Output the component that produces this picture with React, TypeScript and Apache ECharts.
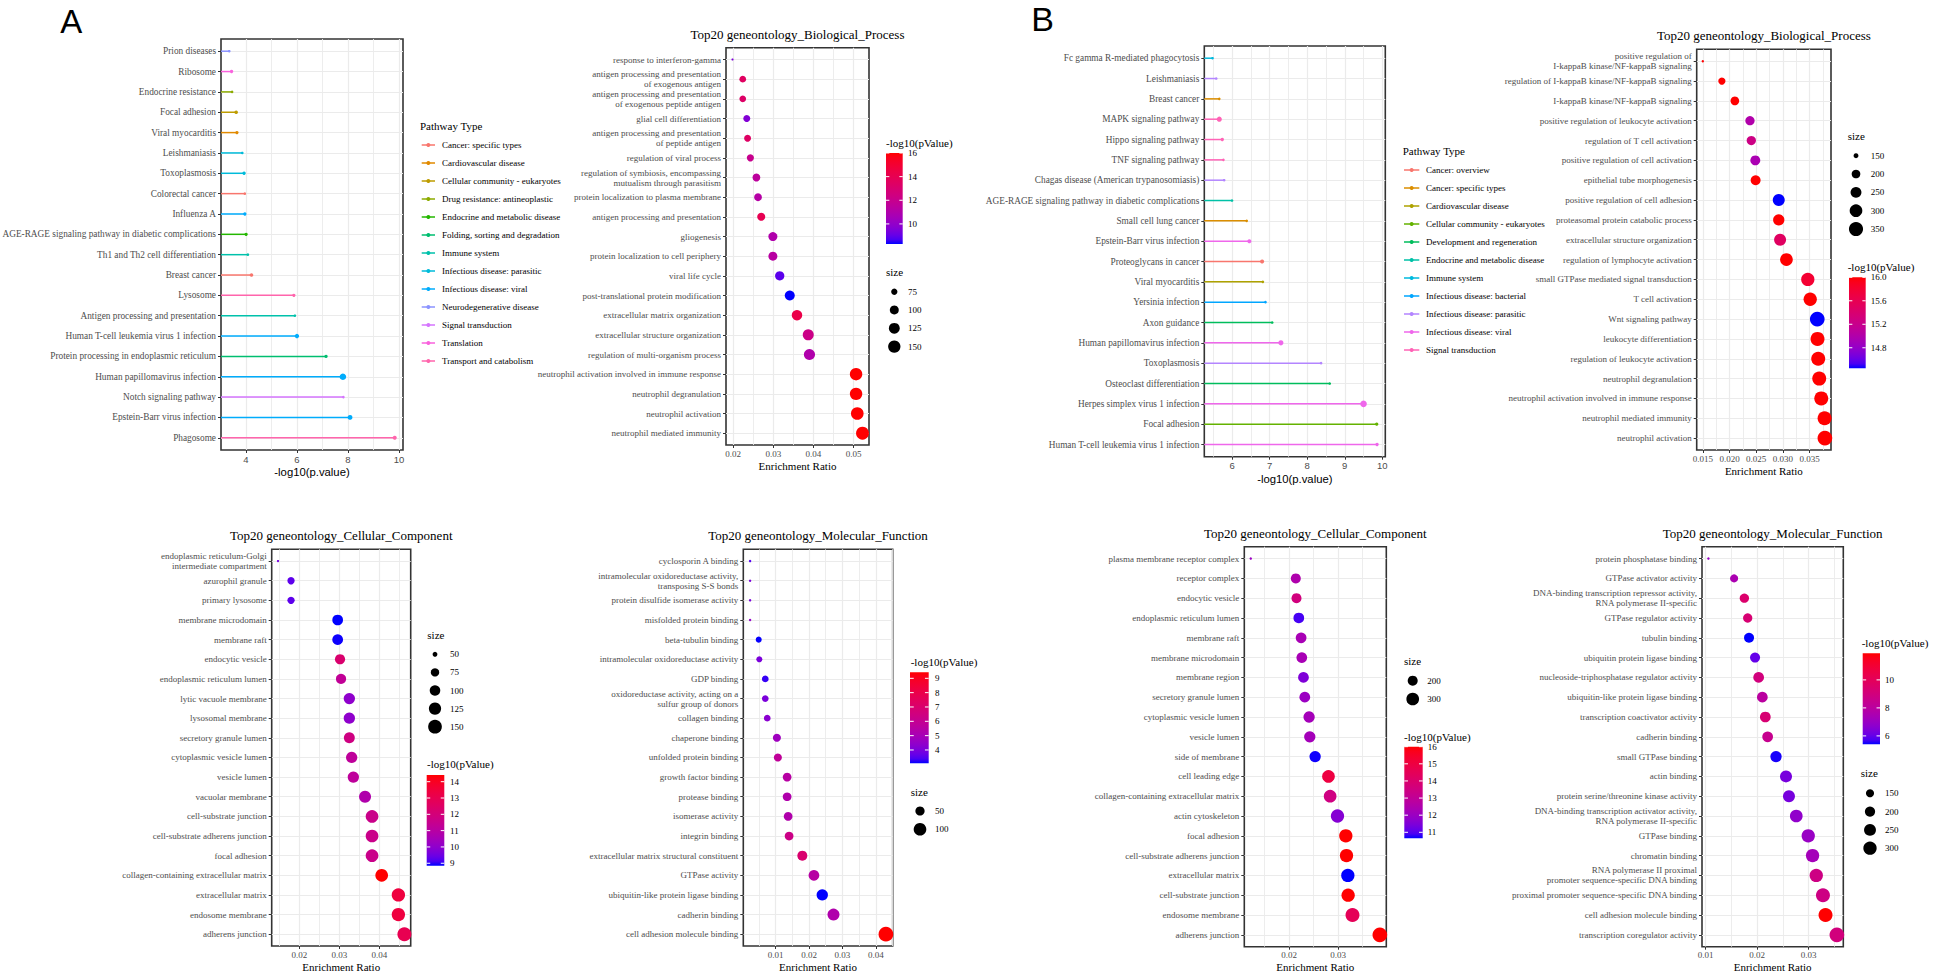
import React, { useEffect, useRef } from "react";
import * as echarts from "echarts";

/* ================= DATA ================= */
/* ---- Panel A : KEGG lollipop ---- */
const aKeggCategories = [
  "Cancer: specific types",
  "Cardiovascular disease",
  "Cellular community - eukaryotes",
  "Drug resistance: antineoplastic",
  "Endocrine and metabolic disease",
  "Folding, sorting and degradation",
  "Immune system",
  "Infectious disease: parasitic",
  "Infectious disease: viral",
  "Neurodegenerative disease",
  "Signal transduction",
  "Translation",
  "Transport and catabolism",
];
const aKeggTerms = [
  "Prion diseases",
  "Ribosome",
  "Endocrine resistance",
  "Focal adhesion",
  "Viral myocarditis",
  "Leishmaniasis",
  "Toxoplasmosis",
  "Colorectal cancer",
  "Influenza A",
  "AGE-RAGE signaling pathway in diabetic complications",
  "Th1 and Th2 cell differentiation",
  "Breast cancer",
  "Lysosome",
  "Antigen processing and presentation",
  "Human T-cell leukemia virus 1 infection",
  "Protein processing in endoplasmic reticulum",
  "Human papillomavirus infection",
  "Notch signaling pathway",
  "Epstein-Barr virus infection",
  "Phagosome",
];
const aKeggLogP = [3.35, 3.44, 3.46, 3.62, 3.65, 3.86, 3.93, 3.96, 3.96, 4.01, 4.08, 4.22, 5.88, 5.92, 6.0, 7.14, 7.8, 7.82, 8.08, 9.83];
const aKeggType = [9, 11, 3, 2, 1, 7, 7, 0, 8, 4, 6, 0, 12, 6, 8, 5, 8, 10, 8, 12];
const aKeggCount = [10, 11, 10, 12, 11, 10, 11, 10, 11, 11, 10, 12, 11, 10, 16, 11, 40, 10, 19, 14];
const aKeggTicks = [4, 6, 8, 10];
const aKeggMinorTicks = [3, 5, 7, 9, 11];

/* ---- Panel A : GO Biological Process ---- */
const aBpTerms = [
  "response to interferon-gamma",
  "antigen processing and presentation\nof exogenous antigen",
  "antigen processing and presentation\nof exogenous peptide antigen",
  "glial cell differentiation",
  "antigen processing and presentation\nof peptide antigen",
  "regulation of viral process",
  "regulation of symbiosis, encompassing\nmutualism through parasitism",
  "protein localization to plasma membrane",
  "antigen processing and presentation",
  "gliogenesis",
  "protein localization to cell periphery",
  "viral life cycle",
  "post-translational protein modification",
  "extracellular matrix organization",
  "extracellular structure organization",
  "regulation of multi-organism process",
  "neutrophil activation involved in immune response",
  "neutrophil degranulation",
  "neutrophil activation",
  "neutrophil mediated immunity",
];
const aBpRatio = [0.01985, 0.0224, 0.0224, 0.0234, 0.0236, 0.0243, 0.0258, 0.0262, 0.027, 0.0299, 0.0299, 0.0316, 0.0341, 0.0359, 0.0387, 0.039, 0.0506, 0.0506, 0.0509, 0.0522];
const aBpLogP = [9.5, 13.5, 13.3, 9.6, 13.4, 12.0, 11.5, 11.2, 14.0, 11.0, 11.3, 8.9, 8.3, 14.3, 12.2, 11.0, 16.0, 16.0, 16.0, 16.0];
const aBpCount = [60, 78, 78, 80, 80, 82, 88, 88, 90, 100, 100, 104, 113, 120, 128, 130, 152, 152, 155, 160];
const aBpTicks = [0.02, 0.03, 0.04, 0.05];
const aBpMinorTicks = [0.015, 0.025, 0.035, 0.045, 0.055];
const aBpColorBreaks = [10, 12, 14, 16];
const aBpSizeBreaks = [75, 100, 125, 150];

/* ---- Panel A : GO Cellular Component ---- */
const aCcTerms = [
  "endoplasmic reticulum-Golgi\nintermediate compartment",
  "azurophil granule",
  "primary lysosome",
  "membrane microdomain",
  "membrane raft",
  "endocytic vesicle",
  "endoplasmic reticulum lumen",
  "lytic vacuole membrane",
  "lysosomal membrane",
  "secretory granule lumen",
  "cytoplasmic vesicle lumen",
  "vesicle lumen",
  "vacuolar membrane",
  "cell-substrate junction",
  "cell-substrate adherens junction",
  "focal adhesion",
  "collagen-containing extracellular matrix",
  "extracellular matrix",
  "endosome membrane",
  "adherens junction",
];
const aCcRatio = [0.01468, 0.01793, 0.01793, 0.02958, 0.02958, 0.03017, 0.03042, 0.0325, 0.0325, 0.0325, 0.03308, 0.0335, 0.03642, 0.03817, 0.03817, 0.03817, 0.04058, 0.04475, 0.04475, 0.04625];
const aCcLogP = [9.6, 9.3, 9.3, 8.85, 8.9, 12.3, 11.3, 10.0, 10.0, 11.8, 11.2, 11.2, 10.8, 11.6, 11.6, 11.6, 14.41, 13.4, 13.4, 13.0];
const aCcCount = [45, 65, 65, 102, 102, 95, 95, 110, 110, 105, 110, 110, 121, 132, 132, 132, 132, 143, 143, 155];
const aCcTicks = [0.02, 0.03, 0.04];
const aCcMinorTicks = [0.015, 0.025, 0.035, 0.045];
const aCcColorBreaks = [9, 10, 11, 12, 13, 14];
const aCcSizeBreaks = [50, 75, 100, 125, 150];

/* ---- Panel A : GO Molecular Function ---- */
const aMfTerms = [
  "cyclosporin A binding",
  "intramolecular oxidoreductase activity,\ntransposing S-S bonds",
  "protein disulfide isomerase activity",
  "misfolded protein binding",
  "beta-tubulin binding",
  "intramolecular oxidoreductase activity",
  "GDP binding",
  "oxidoreductase activity, acting on a\nsulfur group of donors",
  "collagen binding",
  "chaperone binding",
  "unfolded protein binding",
  "growth factor binding",
  "protease binding",
  "isomerase activity",
  "integrin binding",
  "extracellular matrix structural constituent",
  "GTPase activity",
  "ubiquitin-like protein ligase binding",
  "cadherin binding",
  "cell adhesion molecule binding",
];
const aMfRatio = [0.00237, 0.00237, 0.00237, 0.00237, 0.00495, 0.00513, 0.00691, 0.00691, 0.0075, 0.01039, 0.01068, 0.01345, 0.01345, 0.01375, 0.01404, 0.018, 0.02147, 0.02396, 0.02732, 0.043];
const aMfLogP = [3.5, 4.0, 4.0, 4.5, 3.1, 4.0, 3.3, 4.0, 4.3, 4.8, 5.8, 5.5, 5.3, 5.3, 6.3, 7.0, 5.5, 3.07, 5.3, 9.42];
const aMfCount = [10, 10, 10, 10, 21, 21, 26, 26, 26, 37, 37, 44, 44, 44, 44, 59, 69, 78, 89, 140];
const aMfTicks = [0.01, 0.02, 0.03, 0.04];
const aMfMinorTicks = [0.005, 0.015, 0.025, 0.035, 0.045];
const aMfColorBreaks = [4, 5, 6, 7, 8, 9];
const aMfSizeBreaks = [50, 100];

/* ---- Panel B : KEGG lollipop ---- */
const bKeggCategories = [
  "Cancer: overview",
  "Cancer: specific types",
  "Cardiovascular disease",
  "Cellular community - eukaryotes",
  "Development and regeneration",
  "Endocrine and metabolic disease",
  "Immune system",
  "Infectious disease: bacterial",
  "Infectious disease: parasitic",
  "Infectious disease: viral",
  "Signal transduction",
];
const bKeggTerms = [
  "Fc gamma R-mediated phagocytosis",
  "Leishmaniasis",
  "Breast cancer",
  "MAPK signaling pathway",
  "Hippo signaling pathway",
  "TNF signaling pathway",
  "Chagas disease (American trypanosomiasis)",
  "AGE-RAGE signaling pathway in diabetic complications",
  "Small cell lung cancer",
  "Epstein-Barr virus infection",
  "Proteoglycans in cancer",
  "Viral myocarditis",
  "Yersinia infection",
  "Axon guidance",
  "Human papillomavirus infection",
  "Toxoplasmosis",
  "Osteoclast differentiation",
  "Herpes simplex virus 1 infection",
  "Focal adhesion",
  "Human T-cell leukemia virus 1 infection",
];
const bKeggLogP = [5.48, 5.58, 5.66, 5.66, 5.74, 5.77, 5.79, 6.0, 6.39, 6.46, 6.8, 6.82, 6.89, 7.07, 7.3, 8.37, 8.6, 9.5, 9.85, 9.86];
const bKeggType = [6, 8, 1, 10, 10, 10, 8, 5, 1, 9, 0, 2, 7, 4, 9, 8, 4, 9, 3, 9];
const bKeggCount = [10, 10, 10, 22, 11, 10, 10, 10, 10, 14, 14, 10, 10, 10, 22, 10, 10, 40, 11, 11];
const bKeggTicks = [6, 7, 8, 9, 10];
const bKeggMinorTicks = [5.5, 6.5, 7.5, 8.5, 9.5];

/* ---- Panel B : GO Biological Process ---- */
const bBpTerms = [
  "positive regulation of\nI-kappaB kinase/NF-kappaB signaling",
  "regulation of I-kappaB kinase/NF-kappaB signaling",
  "I-kappaB kinase/NF-kappaB signaling",
  "positive regulation of leukocyte activation",
  "regulation of T cell activation",
  "positive regulation of cell activation",
  "epithelial tube morphogenesis",
  "positive regulation of cell adhesion",
  "proteasomal protein catabolic process",
  "extracellular structure organization",
  "regulation of lymphocyte activation",
  "small GTPase mediated signal transduction",
  "T cell activation",
  "Wnt signaling pathway",
  "leukocyte differentiation",
  "regulation of leukocyte activation",
  "neutrophil degranulation",
  "neutrophil activation involved in immune response",
  "neutrophil mediated immunity",
  "neutrophil activation",
];
const bBpRatio = [0.015, 0.01857, 0.021, 0.02383, 0.02408, 0.02483, 0.02489, 0.02922, 0.02922, 0.02947, 0.03066, 0.03466, 0.03511, 0.03643, 0.03648, 0.03661, 0.0368, 0.03718, 0.0378, 0.03786];
const bBpLogP = [16.0, 16.0, 16.0, 15.0, 15.25, 14.95, 16.0, 14.45, 16.0, 15.5, 16.0, 15.8, 16.0, 14.45, 16.0, 16.0, 16.0, 16.0, 16.0, 16.0];
const bBpCount = [141, 176, 200, 212, 212, 227, 227, 280, 260, 280, 301, 320, 320, 370, 344, 344, 344, 344, 344, 370];
const bBpTicks = [0.015, 0.02, 0.025, 0.03, 0.035];
const bBpMinorTicks = [0.0125, 0.0175, 0.0225, 0.0275, 0.0325, 0.0375];
const bBpColorBreaks = [14.8, 15.2, 15.6, 16.0];
const bBpSizeBreaks = [150, 200, 250, 300, 350];

/* ---- Panel B : GO Cellular Component ---- */
const bCcTerms = [
  "plasma membrane receptor complex",
  "receptor complex",
  "endocytic vesicle",
  "endoplasmic reticulum lumen",
  "membrane raft",
  "membrane microdomain",
  "membrane region",
  "secretory granule lumen",
  "cytoplasmic vesicle lumen",
  "vesicle lumen",
  "side of membrane",
  "cell leading edge",
  "collagen-containing extracellular matrix",
  "actin cytoskeleton",
  "focal adhesion",
  "cell-substrate adherens junction",
  "extracellular matrix",
  "cell-substrate junction",
  "endosome membrane",
  "adherens junction",
];
const bCcRatio = [0.01218, 0.02137, 0.02151, 0.02198, 0.02245, 0.02259, 0.02293, 0.0232, 0.02408, 0.02422, 0.02531, 0.02803, 0.02837, 0.02987, 0.03157, 0.03171, 0.03198, 0.03204, 0.03293, 0.03851];
const bCcLogP = [12.0, 12.5, 13.6, 10.9, 12.3, 12.3, 11.5, 12.0, 12.2, 12.2, 10.7, 15.0, 13.5, 11.6, 16.0, 16.0, 10.65, 16.0, 14.5, 16.0];
const bCcCount = [80, 200, 200, 223, 223, 223, 223, 223, 244, 244, 244, 300, 300, 327, 327, 327, 327, 327, 359, 395];
const bCcTicks = [0.02, 0.03];
const bCcMinorTicks = [0.015, 0.025, 0.035];
const bCcColorBreaks = [11, 12, 13, 14, 15, 16];
const bCcSizeBreaks = [200, 300];

/* ---- Panel B : GO Molecular Function ---- */
const bMfTerms = [
  "protein phosphatase binding",
  "GTPase activator activity",
  "DNA-binding transcription repressor activity,\nRNA polymerase II-specific",
  "GTPase regulator activity",
  "tubulin binding",
  "ubiquitin protein ligase binding",
  "nucleoside-triphosphatase regulator activity",
  "ubiquitin-like protein ligase binding",
  "transcription coactivator activity",
  "cadherin binding",
  "small GTPase binding",
  "actin binding",
  "protein serine/threonine kinase activity",
  "DNA-binding transcription activator activity,\nRNA polymerase II-specific",
  "GTPase binding",
  "chromatin binding",
  "RNA polymerase II proximal\npromoter sequence-specific DNA binding",
  "proximal promoter sequence-specific DNA binding",
  "cell adhesion molecule binding",
  "transcription coregulator activity",
];
const bMfRatio = [0.01052, 0.01551, 0.01751, 0.01816, 0.01842, 0.01959, 0.02029, 0.02101, 0.02159, 0.02204, 0.02367, 0.02561, 0.02619, 0.02761, 0.02994, 0.03078, 0.0315, 0.0328, 0.0333, 0.03551];
const bMfLogP = [7.0, 7.5, 9.5, 9.3, 5.4, 6.0, 9.0, 8.0, 9.3, 8.5, 5.5, 6.3, 6.3, 6.8, 7.0, 7.3, 8.8, 8.8, 11.9, 9.0];
const bMfCount = [95, 149, 176, 176, 194, 194, 213, 213, 213, 213, 230, 253, 253, 277, 299, 299, 299, 326, 326, 355];
const bMfTicks = [0.01, 0.02, 0.03];
const bMfMinorTicks = [0.015, 0.025, 0.035];
const bMfColorBreaks = [6, 8, 10];
const bMfSizeBreaks = [150, 200, 250, 300];

/* ================= STYLE HELPERS ================= */
const SERIF = '"Liberation Serif", "Times New Roman", serif';
const SANS = '"Liberation Sans", Arial, sans-serif';
const AXIS_TEXT = "#4d4d4d";
const GRID_COL = "#ebebeb";
const BORDER = "#333333";

function toHex(r: number, g: number, b: number) {
  const h = (v: number) => {
    const c = Math.round(Math.min(1, Math.max(0, v)) * 255);
    return c.toString(16).padStart(2, "0");
  };
  return "#" + h(r) + h(g) + h(b);
}
function gam(c: number) {
  return c <= 0.0031308 ? 12.92 * c : 1.055 * Math.pow(c, 1 / 2.4) - 0.055;
}
function ungam(c: number) {
  return c <= 0.04045 ? c / 12.92 : Math.pow((c + 0.055) / 1.055, 2.4);
}
function xyzToHex(X: number, Y: number, Z: number) {
  const R = 3.2404542 * X - 1.5371385 * Y - 0.4985314 * Z;
  const G = -0.969266 * X + 1.8760108 * Y + 0.041556 * Z;
  const B = 0.0556434 * X - 0.2040259 * Y + 1.0572252 * Z;
  return toHex(gam(Math.max(0, R)), gam(Math.max(0, G)), gam(Math.max(0, B)));
}
const WX = 0.95047, WY = 1.0, WZ = 1.08883;
function rgbToLab(rgb: number[]) {
  const R = ungam(rgb[0] / 255), G = ungam(rgb[1] / 255), B = ungam(rgb[2] / 255);
  const X = (0.4124564 * R + 0.3575761 * G + 0.1804375 * B) / WX;
  const Y = (0.2126729 * R + 0.7151522 * G + 0.072175 * B) / WY;
  const Z = (0.0193339 * R + 0.119192 * G + 0.9503041 * B) / WZ;
  const f = (t: number) => (t > 216 / 24389 ? Math.cbrt(t) : ((24389 / 27) * t + 16) / 116);
  const fx = f(X), fy = f(Y), fz = f(Z);
  return [116 * fy - 16, 500 * (fx - fy), 200 * (fy - fz)];
}
function labToHex(lab: number[]) {
  const fy = (lab[0] + 16) / 116;
  const fx = fy + lab[1] / 500;
  const fz = fy - lab[2] / 200;
  const inv = (t: number) => (t * t * t > 216 / 24389 ? t * t * t : (116 * t - 16) / (24389 / 27));
  return xyzToHex(inv(fx) * WX, inv(fy) * WY, inv(fz) * WZ);
}
// ggplot2 style gradient low = blue, high = red (Lab interpolation)
const LAB_LOW = rgbToLab([0, 0, 255]);
const LAB_HIGH = rgbToLab([255, 0, 0]);
const GRADIENT: string[] = [];
for (let i = 0; i <= 20; i++) {
  const t = i / 20;
  GRADIENT.push(labToHex([0, 1, 2].map((k) => LAB_LOW[k] + (LAB_HIGH[k] - LAB_LOW[k]) * t)));
}
// ggplot2 hue palette (polar LUV, c = 100, l = 65)
function hueColors(n: number) {
  const out: string[] = [];
  for (let i = 0; i < n; i++) {
    const h = 15 + (360 / n) * i;
    const hr = (h * Math.PI) / 180;
    const L = 65, C = 100;
    const U = C * Math.cos(hr), V = C * Math.sin(hr);
    const Y = Math.pow((L + 16) / 116, 3);
    const u = U / (13 * L) + 0.1978398;
    const v = V / (13 * L) + 0.4683363;
    const X = (9 * Y * u) / (4 * v);
    const Z = -X / 3 - 5 * Y + (3 * Y) / v;
    out.push(xyzToHex(X, Y, Z));
  }
  return out;
}
function ext(a: number[]) {
  return [Math.min(...a), Math.max(...a)];
}
function expand(a: number[]) {
  const [lo, hi] = ext(a);
  const d = (hi - lo) * 0.05;
  return [lo - d, hi + d];
}

/* ================= OPTION BUILDER ================= */
function buildOption() {
  const grid: any[] = [];
  const xAxis: any[] = [];
  const yAxis: any[] = [];
  const series: any[] = [];
  const visualMap: any[] = [];
  const g: any[] = [];

  const text = (x: number, y: number, s: string, size: number, align = "left", color = "#000", family = SERIF) => {
    g.push({
      type: "text",
      x,
      y,
      silent: true,
      style: {
        text: s,
        fill: color,
        font: `${size}px ${family}`,
        align,
        verticalAlign: "middle",
        textAlign: align,
        textVerticalAlign: "middle",
      },
    });
  };

  function addPanel(box: any, terms: string[], xr: number[], majors: number[], minors: number[], fmt: (v: number) => string, xName: string, sans: boolean, ySize: number, nameGap: number) {
    const gi = grid.length;
    grid.push({
      left: box.l,
      top: box.t,
      width: box.r - box.l,
      height: box.b - box.t,
      show: true,
      backgroundColor: "#ffffff",
      borderColor: BORDER,
      borderWidth: 1.6,
      containLabel: false,
      outerBoundsMode: "none",
    });
    const fam = sans ? SANS : SERIF;
    const xi = xAxis.length;
    xAxis.push({
      gridIndex: gi,
      type: "value",
      position: "bottom",
      min: xr[0],
      max: xr[1],
      axisLine: { show: false, onZero: false },
      axisTick: { show: true, customValues: majors, length: 3, lineStyle: { color: BORDER, width: 1 } },
      axisLabel: { show: true, customValues: majors, formatter: (v: number) => fmt(v), margin: 4, color: AXIS_TEXT, fontFamily: fam, fontSize: sans ? 9.5 : 9 },
      splitLine: { show: true, lineStyle: { color: GRID_COL, width: 1.2 } },
      name: xName,
      nameLocation: "middle",
      nameGap,
      nameMoveOverlap: false,
      nameTextStyle: { color: "#000", fontFamily: fam, fontSize: sans ? 11.3 : 11 },
    });
    xAxis.push({
      gridIndex: gi,
      type: "value",
      position: "bottom",
      min: xr[0],
      max: xr[1],
      axisLine: { show: false, onZero: false },
      axisTick: { show: false, customValues: minors },
      axisLabel: { show: false, customValues: minors },
      splitLine: { show: true, lineStyle: { color: GRID_COL, width: 0.9 } },
    });
    const yi = yAxis.length;
    const idx = terms.map((_, i) => i);
    yAxis.push({
      gridIndex: gi,
      type: "value",
      inverse: true,
      min: -0.6,
      max: terms.length - 0.4,
      axisLine: { show: false, onZero: false },
      axisTick: { show: true, customValues: idx, length: 3, lineStyle: { color: BORDER, width: 1 } },
      axisLabel: {
        show: true,
        customValues: idx,
        formatter: (v: number) => terms[Math.round(v)] ?? "",
        margin: 5,
        color: AXIS_TEXT,
        fontFamily: SERIF,
        fontSize: ySize,
        lineHeight: ySize + 1,
        align: "right",
      },
      splitLine: { show: true, lineStyle: { color: GRID_COL, width: 1.2 } },
    });
    return { xi, yi };
  }

  function colorbar(L: any, range: number[], breaks: number[], fmt: (v: number) => string) {
    text(L.tx, L.ty, "-log10(pValue)", 11);
    const stops = GRADIENT.map((c, i) => ({ offset: 1 - i / (GRADIENT.length - 1), color: c })).reverse();
    g.push({
      type: "rect",
      silent: true,
      shape: { x: L.x, y: L.y, width: L.w, height: L.h },
      style: { fill: { type: "linear", x: 0, y: 0, x2: 0, y2: 1, colorStops: stops } },
    });
    breaks.forEach((b) => {
      const yy = L.y + L.h - ((b - range[0]) / (range[1] - range[0])) * L.h;
      g.push({ type: "line", silent: true, shape: { x1: L.x, y1: yy, x2: L.x + L.w * 0.2, y2: yy }, style: { stroke: "#ffffff", lineWidth: 1 } });
      g.push({ type: "line", silent: true, shape: { x1: L.x + L.w * 0.8, y1: yy, x2: L.x + L.w, y2: yy }, style: { stroke: "#ffffff", lineWidth: 1 } });
      text(L.lx, yy, fmt(b), 9);
    });
  }

  function sizeLegend(L: any, breaks: number[], sz: (c: number) => number) {
    text(L.tx, L.ty, "size", 11);
    breaks.forEach((b, i) => {
      const yy = L.y0 + i * L.step;
      g.push({ type: "circle", silent: true, shape: { cx: L.dx, cy: yy, r: sz(b) / 2 }, style: { fill: "#000000" } });
      text(L.lx, yy, String(b), 9);
    });
  }

  function dotPanel(cfg: any) {
    const xr = expand(cfg.ratio);
    const { xi, yi } = addPanel(cfg.box, cfg.terms, xr, cfg.ticks, cfg.minor, (v) => v.toFixed(cfg.dec), "Enrichment Ratio", false, 9, 15);
    const [cmin, cmax] = ext(cfg.count);
    const sz = (c: number) => cfg.k * (1 + 5 * Math.sqrt(Math.max(0, (c - cmin) / (cmax - cmin))));
    const prange = ext(cfg.logp);
    const si = series.length;
    series.push({
      type: "scatter",
      xAxisIndex: xi,
      yAxisIndex: yi,
      data: cfg.ratio.map((r: number, i: number) => [r, i, cfg.logp[i], cfg.count[i]]),
      symbol: "circle",
      symbolSize: (v: number[]) => sz(v[3]),
      itemStyle: { opacity: 1 },
      silent: true,
      z: 3,
    });
    visualMap.push({
      type: "continuous",
      show: false,
      seriesIndex: si,
      dimension: 2,
      min: prange[0],
      max: prange[1],
      inRange: { color: GRADIENT },
    });
    text((cfg.box.l + cfg.box.r) / 2, cfg.box.t - 13.5, cfg.title, 13, "center");
    colorbar(cfg.cbar, prange, cfg.colorBreaks, cfg.cfmt);
    sizeLegend(cfg.sleg, cfg.sizeBreaks, sz);
  }

  function lollipopPanel(cfg: any) {
    const xr = expand(cfg.logp);
    const { xi, yi } = addPanel(cfg.box, cfg.terms, xr, cfg.ticks, cfg.minor, (v) => String(v), "-log10(p.value)", true, 9.3, 16.5);
    const pal = hueColors(cfg.categories.length);
    const col = (i: number) => pal[cfg.type[i]];
    const [cmin, cmax] = ext(cfg.count);
    const sz = (c: number) => 2.6 + 4 * Math.sqrt((c - cmin) / (cmax - cmin));
    series.push({
      type: "custom",
      xAxisIndex: xi,
      yAxisIndex: yi,
      data: cfg.logp.map((v: number, i: number) => [v, i]),
      encode: { x: 0, y: 1 },
      silent: true,
      z: 2,
      renderItem: (params: any, api: any) => {
        const v = api.value(0);
        const y = api.value(1);
        const p0 = api.coord([xr[0], y]);
        const p1 = api.coord([v, y]);
        return {
          type: "line",
          shape: { x1: p0[0], y1: p0[1], x2: p1[0], y2: p1[1] },
          style: { stroke: col(params.dataIndex), lineWidth: 1.5 },
        };
      },
    });
    series.push({
      type: "scatter",
      xAxisIndex: xi,
      yAxisIndex: yi,
      data: cfg.logp.map((v: number, i: number) => [v, i, cfg.count[i]]),
      symbol: "circle",
      symbolSize: (v: number[]) => sz(v[2]),
      itemStyle: { color: (p: any) => col(p.dataIndex), opacity: 1 },
      silent: true,
      z: 3,
    });
    const L = cfg.legend;
    text(L.tx, L.ty, "Pathway Type", 11);
    cfg.categories.forEach((c: string, i: number) => {
      const yy = L.y0 + i * L.step;
      g.push({ type: "line", silent: true, shape: { x1: L.k0, y1: yy, x2: L.k1, y2: yy }, style: { stroke: pal[i], lineWidth: 1.5 } });
      g.push({ type: "circle", silent: true, shape: { cx: (L.k0 + L.k1) / 2, cy: yy, r: 2 }, style: { fill: pal[i] } });
      text(L.lx, yy, c, 9);
    });
  }

  const f0 = (v: number) => v.toFixed(0);
  const f1 = (v: number) => v.toFixed(1);

  lollipopPanel({
    categories: aKeggCategories, terms: aKeggTerms, logp: aKeggLogP, type: aKeggType, count: aKeggCount,
    ticks: aKeggTicks, minor: aKeggMinorTicks,
    box: { l: 221, t: 39, r: 403, b: 450 },
    legend: { tx: 420, ty: 125.7, y0: 145, step: 18, k0: 421.7, k1: 435, lx: 442 },
  });
  dotPanel({
    title: "Top20 geneontology_Biological_Process",
    terms: aBpTerms, ratio: aBpRatio, logp: aBpLogP, count: aBpCount, ticks: aBpTicks, minor: aBpMinorTicks, dec: 2,
    colorBreaks: aBpColorBreaks, cfmt: f0, sizeBreaks: aBpSizeBreaks, k: 2.15,
    box: { l: 726, t: 47.7, r: 869, b: 445 },
    cbar: { tx: 886, ty: 142.7, x: 886, y: 153, w: 16.7, h: 91, lx: 908 },
    sleg: { tx: 886, ty: 272.3, y0: 291.7, step: 18.3, dx: 894.3, lx: 908 },
  });
  lollipopPanel({
    categories: bKeggCategories, terms: bKeggTerms, logp: bKeggLogP, type: bKeggType, count: bKeggCount,
    ticks: bKeggTicks, minor: bKeggMinorTicks,
    box: { l: 1204.3, t: 46, r: 1385.3, b: 456.7 },
    legend: { tx: 1402.7, ty: 150.7, y0: 170, step: 18, k0: 1404, k1: 1419.3, lx: 1426 },
  });
  dotPanel({
    title: "Top20 geneontology_Biological_Process",
    terms: bBpTerms, ratio: bBpRatio, logp: bBpLogP, count: bBpCount, ticks: bBpTicks, minor: bBpMinorTicks, dec: 3,
    colorBreaks: bBpColorBreaks, cfmt: f1, sizeBreaks: bBpSizeBreaks, k: 2.45,
    box: { l: 1696.7, t: 49.3, r: 1831, b: 450 },
    sleg: { tx: 1847.7, ty: 136, y0: 155.7, step: 18.33, dx: 1856, lx: 1870.7 },
    cbar: { tx: 1847.7, ty: 266.7, x: 1849, y: 277.3, w: 16.7, h: 91, lx: 1870.7 },
  });
  dotPanel({
    title: "Top20 geneontology_Cellular_Component",
    terms: aCcTerms, ratio: aCcRatio, logp: aCcLogP, count: aCcCount, ticks: aCcTicks, minor: aCcMinorTicks, dec: 2,
    colorBreaks: aCcColorBreaks, cfmt: f0, sizeBreaks: aCcSizeBreaks, k: 2.33,
    box: { l: 271.7, t: 549.3, r: 410.7, b: 946 },
    sleg: { tx: 427.3, ty: 635, y0: 654.3, step: 18.1, dx: 435, lx: 450 },
    cbar: { tx: 427, ty: 764, x: 426.7, y: 775, w: 17.6, h: 90.7, lx: 450 },
  });
  dotPanel({
    title: "Top20 geneontology_Molecular_Function",
    terms: aMfTerms, ratio: aMfRatio, logp: aMfLogP, count: aMfCount, ticks: aMfTicks, minor: aMfMinorTicks, dec: 2,
    colorBreaks: aMfColorBreaks, cfmt: f0, sizeBreaks: aMfSizeBreaks, k: 2.45,
    box: { l: 743.3, t: 549.3, r: 892.7, b: 946 },
    cbar: { tx: 910.7, ty: 662.3, x: 910, y: 672.3, w: 18.7, h: 91, lx: 935 },
    sleg: { tx: 910.7, ty: 791.7, y0: 811, step: 18.3, dx: 920, lx: 935 },
  });
  dotPanel({
    title: "Top20 geneontology_Cellular_Component",
    terms: bCcTerms, ratio: bCcRatio, logp: bCcLogP, count: bCcCount, ticks: bCcTicks, minor: bCcMinorTicks, dec: 2,
    colorBreaks: bCcColorBreaks, cfmt: f0, sizeBreaks: bCcSizeBreaks, k: 2.45,
    box: { l: 1244.3, t: 546.7, r: 1386.3, b: 946.7 },
    sleg: { tx: 1404, ty: 661, y0: 680.7, step: 18.3, dx: 1412.7, lx: 1427.3 },
    cbar: { tx: 1404, ty: 736.7, x: 1404.3, y: 746.7, w: 18.4, h: 91.6, lx: 1427.7 },
  });
  dotPanel({
    title: "Top20 geneontology_Molecular_Function",
    terms: bMfTerms, ratio: bMfRatio, logp: bMfLogP, count: bMfCount, ticks: bMfTicks, minor: bMfMinorTicks, dec: 2,
    colorBreaks: bMfColorBreaks, cfmt: f0, sizeBreaks: bMfSizeBreaks, k: 2.45,
    box: { l: 1702, t: 546.7, r: 1843.3, b: 946.7 },
    cbar: { tx: 1861.7, ty: 642.7, x: 1862.7, y: 653.3, w: 17.3, h: 91, lx: 1885 },
    sleg: { tx: 1860.7, ty: 773.3, y0: 793.3, step: 18.3, dx: 1870, lx: 1885 },
  });

  text(71.3, 21, "A", 33, "center", "#000", SANS);
  text(1042.5, 19, "B", 34, "center", "#000", SANS);

  return {
    animation: false,
    backgroundColor: "#ffffff",
    grid,
    xAxis,
    yAxis,
    series,
    visualMap,
    graphic: { elements: g },
  };
}

export default function App() {
  const ref = useRef<HTMLDivElement>(null);
  useEffect(() => {
    if (!ref.current) return;
    const chart = echarts.init(ref.current, null, { renderer: "svg" });
    chart.setOption(buildOption() as any);
    return () => chart.dispose();
  }, []);
  return (
    <div
      ref={ref}
      style={{ position: "fixed", left: 0, top: 0, width: 1952, height: 972, background: "#ffffff" }}
    />
  );
}
